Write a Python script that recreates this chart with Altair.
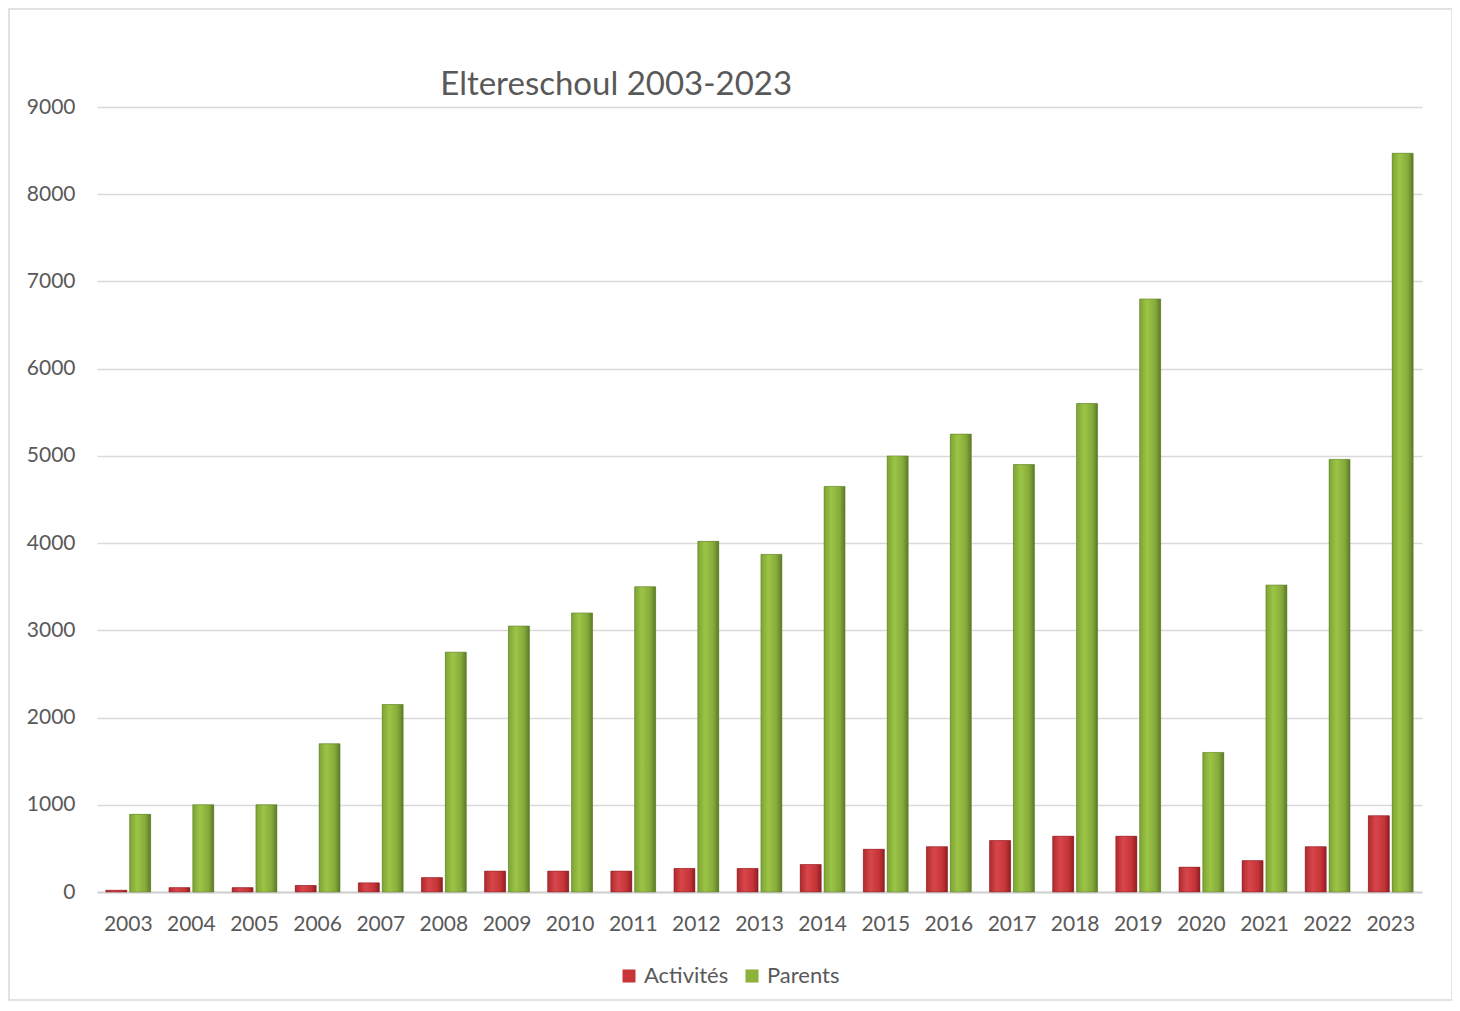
import altair as alt
import pandas as pd

years = [str(y) for y in range(2003, 2024)]
activites = [20, 50, 50, 75, 105, 165, 240, 240, 240, 270, 270, 315, 490, 520, 590, 640, 640, 285, 360, 520, 875]
parents = [890, 1000, 1000, 1700, 2150, 2750, 3050, 3200, 3500, 4020, 3870, 4650, 5000, 5250, 4900, 5600, 6800, 1600, 3520, 4960, 8470]
series = ["Activités", "Parents"]

rows = []
for i, y in enumerate(years):
    rows.append({"year": y, "series": series[0], "value": activites[i]})
    rows.append({"year": y, "series": series[1], "value": parents[i]})
df = pd.DataFrame(rows)

FONT = "Lato"
GRAY = "#595959"

x_enc = alt.X("year:N", sort=years, title=None,
              scale=alt.Scale(paddingInner=0.29, paddingOuter=0.14),
              axis=alt.Axis(labelAngle=0, ticks=False, domainColor="#d0d0d0", domainWidth=2,
                            labelFontSize=21, labelColor=GRAY, labelFont=FONT, labelPadding=21))
y_enc = alt.Y("value:Q", title=None,
              scale=alt.Scale(domain=[0, 9000], nice=False),
              axis=alt.Axis(values=list(range(0, 9001, 1000)), format="d", ticks=False, domain=False,
                            gridColor="#d9d9d9", gridWidth=1.5, labelFontSize=21,
                            labelColor=GRAY, labelFont=FONT, labelPadding=22))
xo_enc = alt.XOffset("series:N", sort=series, scale=alt.Scale(domain=series, paddingInner=0.12))

base = alt.Chart(df)

legend_layer = base.mark_bar().encode(
    x=x_enc, y=y_enc, xOffset=xo_enc,
    color=alt.Color("series:N", sort=series,
                    scale=alt.Scale(domain=series, range=["#c8363a", "#8cb23c"]),
                    legend=alt.Legend(title=None, orient="none", direction="horizontal",
                                      legendX=521, legendY=858, symbolType="square",
                                      symbolSize=170, labelFontSize=22, labelColor=GRAY,
                                      labelFont=FONT, columnPadding=12, labelOffset=4,
                                      symbolStrokeWidth=0))
)

red_grad = alt.Gradient(gradient="linear", x1=0, x2=1, y1=0, y2=0, stops=[
    alt.GradientStop(offset=0, color="#b02a2e"),
    alt.GradientStop(offset=0.35, color="#d7464a"),
    alt.GradientStop(offset=0.75, color="#c63438"),
    alt.GradientStop(offset=1, color="#8e2023"),
])
green_grad = alt.Gradient(gradient="linear", x1=0, x2=1, y1=0, y2=0, stops=[
    alt.GradientStop(offset=0, color="#7da336"),
    alt.GradientStop(offset=0.35, color="#9cc546"),
    alt.GradientStop(offset=0.75, color="#86aa3a"),
    alt.GradientStop(offset=1, color="#5c7a28"),
])

red_layer = base.transform_filter(alt.datum.series == "Activités").mark_bar(
    fill=red_grad, stroke="#8a1f22", strokeWidth=0.5).encode(x=x_enc, y=y_enc, xOffset=xo_enc)
green_layer = base.transform_filter(alt.datum.series == "Parents").mark_bar(
    fill=green_grad, stroke="#5a7a26", strokeWidth=0.5).encode(x=x_enc, y=y_enc, xOffset=xo_enc)

frame = alt.Chart(pd.DataFrame({"a": [0]})).mark_rect(
    fill=None, stroke="#d9d9d9", strokeWidth=1.5, clip=False).encode(
    x=alt.value(-88), x2=alt.value(1355), y=alt.value(-98), y2=alt.value(893))

chart = alt.layer(frame, legend_layer, red_layer, green_layer).properties(
    width=1325, height=785,
    autosize=alt.AutoSizeParams(type="none"),
    padding={"left": 89, "top": 99, "right": 30, "bottom": 110},
    title=alt.TitleParams("Eltereschoul 2003-2023", anchor="start", dx=432, offset=-94,
                          fontSize=33, font=FONT, fontWeight="normal", color=GRAY),
).configure(background="white").configure_view(stroke=None)

chart.save("out.html", embed_options={"renderer": "svg", "actions": False})
